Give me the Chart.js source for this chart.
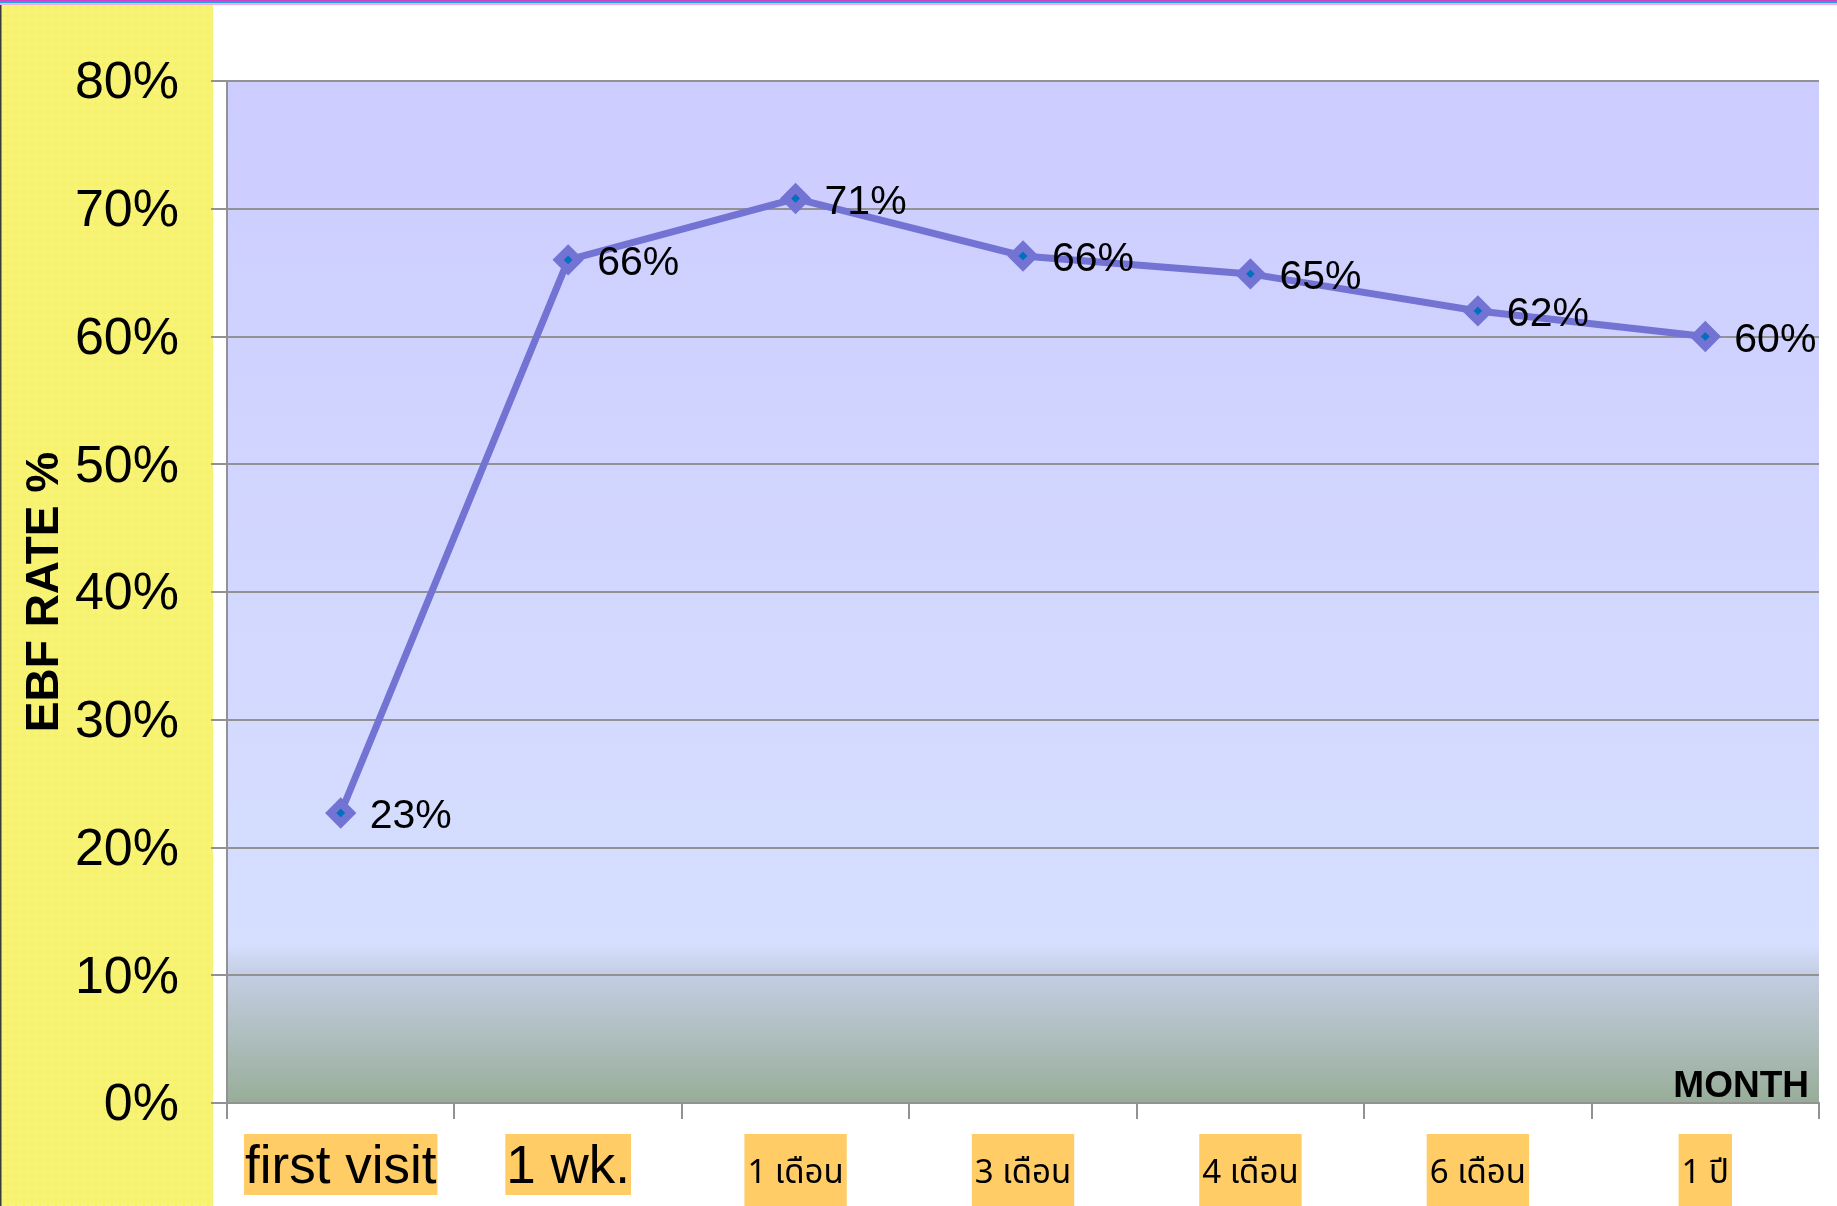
<!DOCTYPE html>
<html><head><meta charset="utf-8">
<script src="https://cdn.jsdelivr.net/npm/chart.js@4.4.1/dist/chart.umd.min.js"></script>
<style>html,body{margin:0;padding:0;background:#fff;overflow:hidden}canvas{display:block}</style>
</head><body>
<canvas id="c" width="1837" height="1206"></canvas>
<script>
// ---- data ----
const categories = ['first visit', '1 wk.', '1 เดือน', '3 เดือน', '4 เดือน', '6 เดือน', '1 ปี'];
const ebfRate = [22.7, 66.0, 70.8, 66.3, 64.9, 62.0, 60.0];
const yTicks = [0, 10, 20, 30, 40, 50, 60, 70, 80];
const yTitle = 'EBF RATE %';
const xTitle = 'MONTH';

const LATIN = '"Liberation Sans", Arial, Helvetica, sans-serif';
const THAI = '"Noto Sans Thai", "Noto Sans Thai Looped", "Loma", "Garuda", "Noto Sans", "DejaVu Sans", sans-serif';
const isThai = s => /[\u0E00-\u0E7F]/.test(s);

const canvas = document.getElementById('c');
const ctx0 = canvas.getContext('2d');
const pc = document.createElement('canvas'); pc.width = 8; pc.height = 8;
const p = pc.getContext('2d');
p.fillStyle = '#F6F26C'; p.fillRect(0, 0, 8, 8);
p.strokeStyle = '#FAF790'; p.lineWidth = 1;
p.beginPath(); p.arc(4, 4, 2.2, 0, Math.PI * 2); p.stroke();
const yellowPattern = ctx0.createPattern(pc, 'repeat');

const decor = {
  id: 'decor',
  beforeDraw(chart) {
    const {ctx, chartArea: a, width, height} = chart;
    ctx.save();
    ctx.fillStyle = '#ffffff'; ctx.fillRect(0, 0, width, height);
    ctx.fillStyle = yellowPattern; ctx.fillRect(0, 5, 213, height - 5);
    ctx.fillStyle = '#3a3a3a'; ctx.fillRect(0, 5, 1.5, height - 5);
    ctx.fillStyle = '#D040C8'; ctx.fillRect(0, 0, width, 1);
    ctx.fillStyle = '#1EA6E2'; ctx.fillRect(0, 1, width, 2.2);
    ctx.fillStyle = '#F6A8E2'; ctx.fillRect(0, 3.2, width, 1.8);
    const g = ctx.createLinearGradient(0, a.top, 0, a.bottom);
    g.addColorStop(0, '#CCCCFF');
    g.addColorStop(0.845, '#D6DFFE');
    g.addColorStop(0.875, '#C3CDE2');
    g.addColorStop(1, '#98AD98');
    ctx.fillStyle = g;
    ctx.fillRect(a.left, a.top, a.right - a.left, a.bottom - a.top);
    ctx.restore();
  },
  afterDraw(chart) {
    const {ctx, chartArea: a, scales} = chart;
    const meta = chart.getDatasetMeta(0);
    ctx.save();
    // data labels
    ctx.fillStyle = '#000';
    ctx.font = '41px ' + LATIN;
    ctx.textAlign = 'left';
    ctx.textBaseline = 'middle';
    meta.data.forEach((pt, i) => {
      ctx.fillText(Math.round(ebfRate[i]) + '%', pt.x + 29, pt.y + 4);
    });
    // x labels with boxes
    ctx.textBaseline = 'alphabetic';
    ctx.textAlign = 'center';
    categories.forEach((lab, i) => {
      const x = scales.x.getPixelForValue(i);
      const th = isThai(lab);
      ctx.font = th ? '33px ' + THAI : '53px ' + LATIN;
      const w = ctx.measureText(lab).width + (th ? 6 : 2);
      ctx.fillStyle = '#FFCC66';
      ctx.fillRect(x - w / 2, 1134, w, th ? 72 : 61);
      ctx.fillStyle = '#000';
      ctx.fillText(lab, x, 1183);
    });
    // axis title
    ctx.font = 'bold 37px ' + LATIN;
    ctx.textAlign = 'right';
    ctx.fillText(xTitle, a.right - 10, a.bottom - 6);
    ctx.restore();
  }
};

new Chart(canvas, {
  type: 'line',
  data: {
    labels: categories,
    datasets: [{
      data: ebfRate,
      borderColor: '#7373D3',
      borderWidth: 7,
      tension: 0,
      pointStyle: 'rectRot',
      pointRadius: 10,
      pointBorderWidth: 8,
      pointBackgroundColor: '#0070C0',
      pointBorderColor: '#7373D3'
    }]
  },
  options: {
    responsive: false,
    animation: false,
    layout: {padding: {top: 81, right: 14, left: 0, bottom: 0}},
    plugins: {legend: {display: false}, tooltip: {enabled: false}, title: {display: false}},
    scales: {
      x: {
        type: 'category',
        offset: true,
        grid: {offset: true, drawOnChartArea: false, drawTicks: true, tickLength: 16, color: '#929292', lineWidth: 2},
        border: {display: true, color: '#929292', width: 2},
        ticks: {display: false},
        afterFit: s => { s.height = 103; }
      },
      y: {
        min: 0, max: 80,
        afterBuildTicks: s => { s.ticks = yTicks.map(v => ({value: v})); },
        grid: {color: '#929292', lineWidth: 2, drawTicks: true, tickLength: 16},
        border: {display: true, color: '#929292', width: 2},
        ticks: {
          color: '#000',
          font: {family: LATIN, size: 52},
          padding: 32,
          labelOffset: 3,
          callback: v => v + '%'
        },
        title: {
          display: true, text: yTitle, color: '#000',
          font: {family: LATIN, size: 46, weight: 'bold'},
          padding: {top: 18, bottom: 0}
        },
        afterFit: s => { s.width = 227; }
      }
    }
  },
  plugins: [decor]
});
</script>
</body></html>
